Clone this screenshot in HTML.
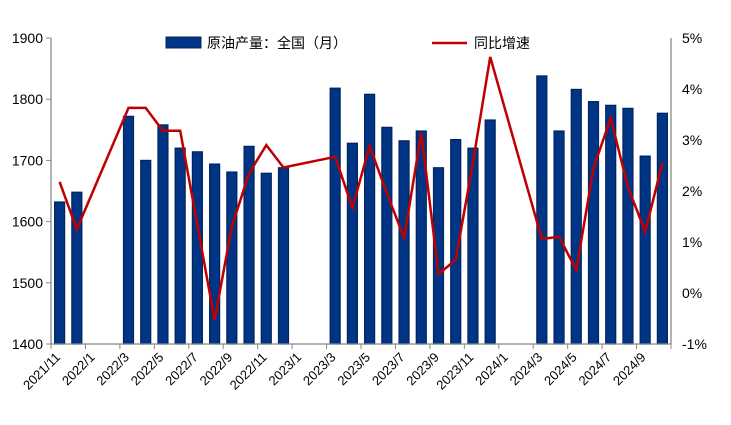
<!DOCTYPE html>
<html><head><meta charset="utf-8"><style>
body{margin:0;background:#fff;}
svg{display:block;font-family:"Liberation Sans","Noto Sans CJK SC",sans-serif;}
</style></head><body>
<svg id="chart" width="731" height="425"></svg>
<script>
const months=["2021/11","2021/12","2022/1","2022/2","2022/3","2022/4","2022/5","2022/6","2022/7","2022/8","2022/9","2022/10","2022/11","2022/12","2023/1","2023/2","2023/3","2023/4","2023/5","2023/6","2023/7","2023/8","2023/9","2023/10","2023/11","2023/12","2024/1","2024/2","2024/3","2024/4","2024/5","2024/6","2024/7","2024/8","2024/9","2024/10"];
const production=[1632,1648,null,null,1772,1700,1758,1720,1714,1694,1681,1723,1679,1688,null,null,1818,1728,1808,1754,1732,1748,1688,1734,1720,1766,null,null,1838,1748,1816,1796,1790,1785,1707,1777];
const yoy=[2.18,1.25,null,null,3.63,3.63,3.18,3.18,1.33,-0.53,1.3,2.35,2.9,2.46,null,null,2.67,1.67,2.88,1.96,1.08,3.14,0.37,0.65,2.55,4.63,null,null,1.06,1.1,0.45,2.45,3.43,2.08,1.2,2.55];
const leftTicks=[1400,1500,1600,1700,1800,1900];
const rightTicks=[-1,0,1,2,3,4,5];
const rightLabels=["-1%","0%","1%","2%","3%","4%","5%"];

const svg=document.getElementById('chart');
const NS='http://www.w3.org/2000/svg';
const X0=51,X1=671,Y0=344,Y1=38;
const bw=(X1-X0)/months.length;
const xc=i=>X0+bw*(i+0.5);
const yL=v=>Y0-(v-1400)/500*(Y0-Y1);
const yR=v=>Y0-(v+1)/6*(Y0-Y1);
function mk(tag,attrs,parent){const e=document.createElementNS(NS,tag);for(const k in attrs)e.setAttribute(k,attrs[k]);(parent||svg).appendChild(e);return e;}

// bars
production.forEach((v,i)=>{if(v==null)return;
const r=mk('rect',{x:xc(i)-5,y:yL(v),width:10,height:Y0-yL(v),fill:'#003585',stroke:'#00245e','stroke-width':1.2});


});
// line
let d='';let started=false;
yoy.forEach((v,i)=>{if(v==null)return;d+=(started?'L':'M')+xc(i).toFixed(1)+','+yR(v).toFixed(1);started=true;});
const ln=mk('path',{d:d,fill:'none',stroke:'#c00000','stroke-width':2.5,'stroke-linejoin':'miter'});



// axes
const ax=mk('path',{d:`M${X0},${Y1}V${Y0}H${X1}M${X1},${Y1}V${Y0}`,stroke:'#888','stroke-width':1.3,fill:'none'});


leftTicks.forEach(t=>{
mk('line',{x1:X0-5,x2:X0,y1:yL(t),y2:yL(t),stroke:'#888'});
const tx=mk('text',{x:X0-8,y:yL(t)+5,'text-anchor':'end','font-size':14,fill:'#000'});
tx.textContent=t;


});
rightTicks.forEach((t,k)=>{
const tx=mk('text',{x:X1+11,y:yR(t)+5,'font-size':14,fill:'#000'});
tx.textContent=rightLabels[k];


});
months.forEach((m,i)=>{
if(i%2)return;
const x=X0+bw*i;
mk('line',{x1:x,x2:x,y1:Y0,y2:Y0+5,stroke:'#888'});
const tx=mk('text',{x:x+10,y:Y0+14,'text-anchor':'end','font-size':13,fill:'#000',transform:`rotate(-45 ${x+10} ${Y0+14})`});
tx.textContent=m;


});
mk('line',{x1:X1,x2:X1,y1:Y0,y2:Y0+5,stroke:'#888'});

// legend
const lg=mk('g',{});


mk('rect',{x:166,y:37,width:35,height:11,fill:'#003585',stroke:'#00245e'},lg);
const t1=mk('text',{x:207,y:48,'font-size':14,fill:'#000'},lg);
t1.textContent='原油产量：全国（月）';


mk('line',{x1:432,x2:467,y1:43,y2:43,stroke:'#c00000','stroke-width':2.5},lg);
const t2=mk('text',{x:474,y:48,'font-size':14,fill:'#000'},lg);
t2.textContent='同比增速';


</script>
</body></html>
